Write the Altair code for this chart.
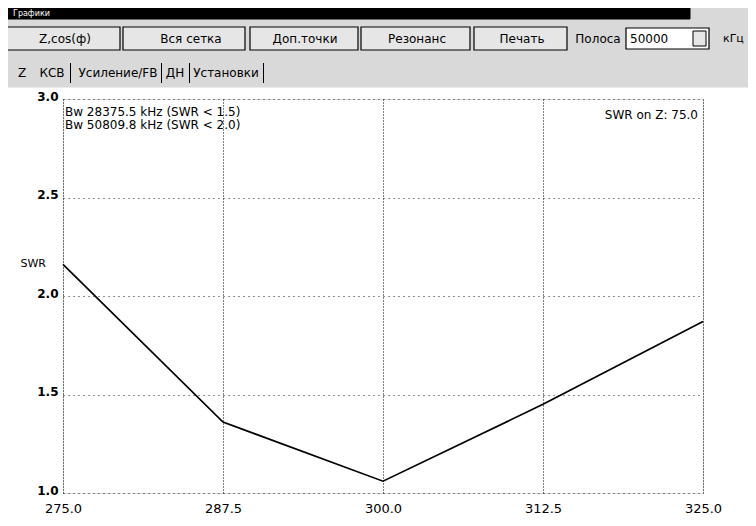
import altair as alt
import pandas as pd

# ---- data ----
freq = [275.0, 287.5, 300.0, 312.5, 325.0]
swr = [2.16, 1.36, 1.06, 1.45, 1.87]
x_ticks = [275.0, 287.5, 300.0, 312.5, 325.0]
y_ticks = [1.0, 1.5, 2.0, 2.5, 3.0]
bw_lines = ["Bw 28375.5 kHz (SWR < 1.5)", "Bw 50809.8 kHz (SWR < 2.0)"]
z_note = "SWR on Z: 75.0"
window_title = "Графики"
buttons = ["Z,cos(ф)", "Вся сетка", "Доп.точки", "Резонанс", "Печать"]
band_label = "Полоса"
band_value = "50000"
band_unit = "кГц"
tabs = ["Z", "КСВ", "Усиление/FB", "ДН", "Установки"]

df = pd.DataFrame({"f": freq, "swr": swr})
FONT = "DejaVu Sans"
W, H = 640, 394

x_scale = alt.Scale(domain=[275, 325], nice=False, zero=False)
y_scale = alt.Scale(domain=[1, 3], nice=False, zero=False)

line = alt.Chart(df).mark_line(color="black", strokeWidth=1.7).encode(
    x=alt.X("f:Q", scale=x_scale,
            axis=alt.Axis(values=x_ticks, format=".1f", title=None, grid=True,
                          gridDash=[1, 2], gridColor="#000", gridWidth=1,
                          domain=False, ticks=False, labelPadding=9,
                          labelFont=FONT, labelFontSize=13, labelColor="black",
                          labelFlush=False)),
    y=alt.Y("swr:Q", scale=y_scale,
            axis=alt.Axis(values=y_ticks, format=".1f", title="SWR", titleAngle=0,
                          titleX=-43, titleY=164, titleAlign="left",
                          titleBaseline="middle", titleFont=FONT, titleFontSize=11,
                          titleFontWeight="normal", titleColor="black",
                          grid=True, gridDash=[1, 4], gridColor="#222",
                          domain=False, ticks=False, labelPadding=5,
                          labelFont=FONT, labelFontSize=12, labelFontWeight="bold",
                          labelColor="black", labelBaseline="middle",
                          labelOffset=-3, labelFlush=False)),
)

one = alt.Data(values=[{"k": 0}])


def txt(s, x, y, size=12, align="center", color="black", weight="normal"):
    return alt.Chart(one).mark_text(
        text=s, font=FONT, fontSize=size, align=align, baseline="middle",
        color=color, fontWeight=weight,
    ).encode(x=alt.value(x), y=alt.value(y))


def box(x1, x2, y1, y2, fill="none", stroke="black", sw=1):
    return alt.Chart(one).mark_rect(fill=fill, stroke=stroke, strokeWidth=sw).encode(
        x=alt.value(x1), x2=alt.value(x2), y=alt.value(y1), y2=alt.value(y2))


layers = []
# window chrome
layers.append(box(-63, 700, -91, -12, fill="#d9d9d9", stroke="#d9d9d9"))
layers.append(box(-63, 627, -91, -80, fill="black", stroke="black"))
layers.append(txt(window_title, -50, -85, size=8, align="left", color="white"))

btn_edges = [(-58, 57), (60, 182), (187, 295), (298, 407), (411, 504)]
btn_centers = [2, 128, 242, 354, 459]
for (a, b), c, s in zip(btn_edges, btn_centers, buttons):
    layers.append(box(a, b, -72, -49, fill="#e6e6e6", stroke="black", sw=1.2))
    layers.append(txt(s, c, -60, size=12))
layers.append(txt(band_label, 535, -60, size=12))
layers.append(box(563, 646, -71, -50, fill="white", stroke="black", sw=1.2))
layers.append(txt(band_value, 567, -60, size=12, align="left"))
layers.append(box(630, 643, -68, -53, fill="#e6e6e6", stroke="black", sw=1))
layers.append(txt(band_unit, 660, -60, size=11, align="left"))

tab_centers = [-41, -11, 55, 112, 163]
for c, s in zip(tab_centers, tabs):
    layers.append(txt(s, c, -26, size=12))
for sx in [7, 98, 126, 200]:
    layers.append(box(sx, sx + 1, -36, -16, fill="black", stroke="black", sw=0))

# annotations inside the plot
layers.append(txt(bw_lines[0], 2, 13, size=12, align="left"))
layers.append(txt(bw_lines[1], 2, 26, size=12, align="left"))
layers.append(txt(z_note, W - 5, 16, size=12, align="right"))

chart = alt.layer(*layers, line).properties(
    width=W, height=H,
    autosize=alt.AutoSizeParams(type="none"),
    padding={"left": 55, "top": 91, "right": 45, "bottom": 25},
).configure_view(stroke="black", strokeWidth=2.2).configure(background="white")

chart.save("out.html", embed_options={"renderer": "svg", "actions": False})
